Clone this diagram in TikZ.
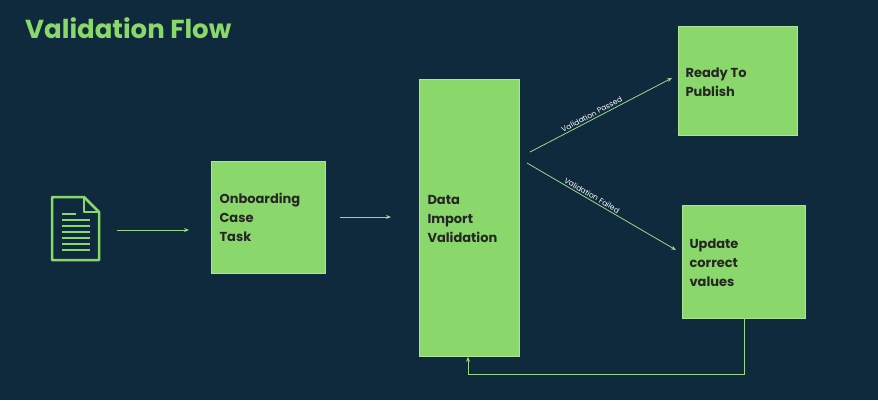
\documentclass[tikz,border=0pt]{standalone}
\usepackage{fontspec}
\setmainfont{Poppins}
\usetikzlibrary{arrows.meta}
\definecolor{bg}{HTML}{0F2A3C}
\definecolor{gr}{HTML}{8AD86C}
\definecolor{ln}{HTML}{9BD88A}
\begin{document}
\begin{tikzpicture}[x=1pt,y=-1pt,
 box/.style={draw=gr!70!white,fill=gr,line width=0.8pt,inner sep=0pt},
 lbl/.style={font=\bfseries\fontsize{13}{19}\selectfont,align=left,text=black!85,anchor=north west},
 con/.style={draw=ln,line width=0.8pt,-{Stealth[length=5pt,width=4pt]}},
 el/.style={font=\fontsize{7.5}{9}\selectfont,text=white,inner sep=1.5pt}]
\fill[bg] (0,0) rectangle (878,400);
\useasboundingbox (0,0) rectangle (878,400);
\node[font=\bfseries\fontsize{26}{30}\selectfont,text=gr,anchor=west,inner sep=0pt] (title) at (25,28) {Validation Flow};
% document icon
\draw[gr,line width=2.5pt,line join=round] (52,197) -- (84,197) -- (99,212) -- (99,260) -- (52,260) -- cycle;
\draw[gr,line width=2pt,line join=round] (84,197) -- (84,212) -- (99,212);
\foreach \y in {220,226,232,238,244,250}{\draw[gr,line width=2.2pt] (62,\y) -- (90,\y);}
\draw[gr,line width=2.2pt] (62,214) -- (76,214);
\node[box,minimum width=114,minimum height=112,anchor=north west] (b1) at (211,161) {};
\node[lbl] at (216,190) {Onboarding\\Case\\Task};
\node[box,minimum width=100,minimum height=277,anchor=north west] (b2) at (419,79) {};
\node[lbl] at (424,192) {Data\\Import\\Validation};
\node[box,minimum width=119,minimum height=109,anchor=north west] (b3) at (678,26) {};
\node[lbl] at (682,64) {Ready To\\Publish};
\node[box,minimum width=123,minimum height=113,anchor=north west] (b4) at (682,205) {};
\node[lbl] at (686,235) {Update\\correct\\values};
\coordinate (a0) at (117,230); \coordinate (a1) at (189,230);
\draw[con] (a0) -- (a1);
\coordinate (c0) at (340,217); \coordinate (c1) at (391,217);
\draw[con] (c0) -- (c1);
\coordinate (p0) at (530,152); \coordinate (p1) at (672,78);
\draw[con] (p0) -- node[el,sloped,above,pos=0.45] {Validation Passed} (p1);
\coordinate (f0) at (527,163); \coordinate (f1) at (676,250);
\draw[con] (f0) -- node[el,sloped,above,pos=0.42] {Validation Failed} (f1);
\coordinate (r0) at (744,318); \coordinate (r1) at (744,374); \coordinate (r2) at (468,374);
\draw[con] (r0) -- (r1) -- (r2) -- (b2.south -| r2);
\end{tikzpicture}
\end{document}
